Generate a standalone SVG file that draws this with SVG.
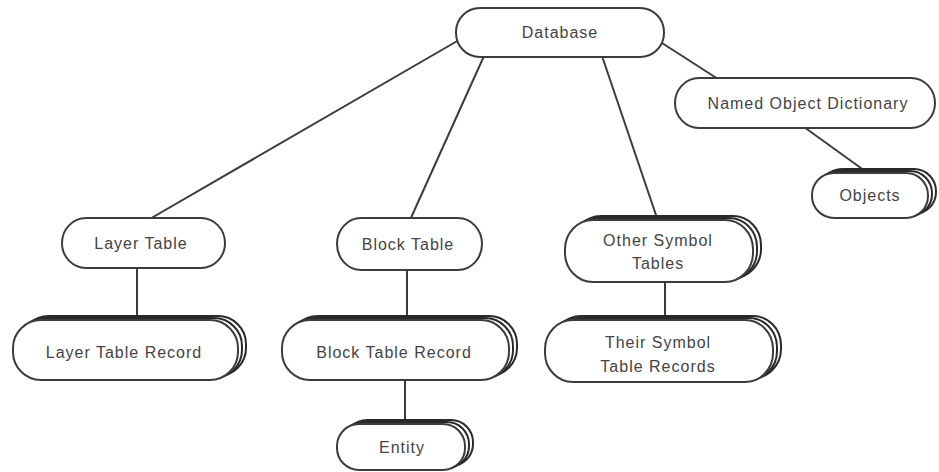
<svg xmlns="http://www.w3.org/2000/svg" width="939" height="472" viewBox="0 0 939 472">
<style>
.n{fill:#fff;stroke:#3c3c3c;stroke-width:2}
.b{fill:#fff;stroke:#2a2a2a;stroke-width:2}
.c{stroke:#3c3c3c;stroke-width:2;fill:none}
text{font-family:"Liberation Sans",Arial,sans-serif;font-size:16px;fill:#444;text-anchor:middle;letter-spacing:1px}
</style>
<rect width="939" height="472" fill="#fff"/>
<g id="connectors">
<line class="c" x1="459" y1="40" x2="148" y2="220"/>
<line class="c" x1="484" y1="56" x2="410" y2="220"/>
<line class="c" x1="602" y1="56" x2="657" y2="218"/>
<line class="c" x1="662" y1="43" x2="718" y2="79"/>
<line class="c" x1="804" y1="127" x2="865" y2="171"/>
<line class="c" x1="137" y1="267" x2="137" y2="318"/>
<line class="c" x1="407" y1="269" x2="407" y2="318"/>
<line class="c" x1="405" y1="379" x2="405" y2="422"/>
<line class="c" x1="665" y1="279" x2="665" y2="318"/>
</g>
<g id="database">
<rect class="n" x="456" y="8" width="208" height="49" rx="24" ry="24"/>
<text x="560" y="38">Database</text>
</g>
<g id="named-object-dictionary">
<rect class="n" x="675" y="78" width="260" height="50" rx="24" ry="25"/>
<text x="808" y="109">Named Object Dictionary</text>
</g>
<g id="objects">
<rect class="b" x="820" y="169" width="116" height="45" rx="22" ry="22"/>
<rect class="b" x="816" y="171" width="116" height="45" rx="22" ry="22"/>
<rect class="n" x="812" y="173" width="116" height="45" rx="22" ry="22"/>
<text x="870" y="201">Objects</text>
</g>
<g id="layer-table">
<rect class="n" x="62" y="218" width="163" height="50" rx="24" ry="25"/>
<text x="141" y="249">Layer Table</text>
</g>
<g id="layer-table-record">
<rect class="b" x="21" y="316" width="225" height="60" rx="28" ry="28"/>
<rect class="b" x="17" y="318" width="225" height="60" rx="28" ry="28"/>
<rect class="n" x="13" y="320" width="225" height="60" rx="28" ry="28"/>
<text x="124" y="358">Layer Table Record</text>
</g>
<g id="block-table">
<rect class="n" x="337" y="218" width="145" height="52" rx="24" ry="26"/>
<text x="408" y="250">Block Table</text>
</g>
<g id="block-table-record">
<rect class="b" x="290" y="316" width="227" height="60" rx="28" ry="28"/>
<rect class="b" x="286" y="318" width="227" height="60" rx="28" ry="28"/>
<rect class="n" x="282" y="320" width="227" height="60" rx="28" ry="28"/>
<text x="394" y="358">Block Table Record</text>
</g>
<g id="entity">
<rect class="b" x="345" y="420" width="128" height="46" rx="22" ry="22"/>
<rect class="b" x="341" y="422" width="128" height="46" rx="22" ry="22"/>
<rect class="n" x="337" y="424" width="128" height="46" rx="22" ry="22"/>
<text x="402" y="453">Entity</text>
</g>
<g id="other-symbol-tables">
<rect class="b" x="573" y="216" width="188" height="62" rx="28" ry="29"/>
<rect class="b" x="569" y="218" width="188" height="62" rx="28" ry="29"/>
<rect class="n" x="565" y="220" width="188" height="62" rx="28" ry="29"/>
<text x="658" y="246">Other Symbol</text>
<text x="658" y="269">Tables</text>
</g>
<g id="their-symbol-table-records">
<rect class="b" x="553" y="316" width="228" height="62" rx="28" ry="29"/>
<rect class="b" x="549" y="318" width="228" height="62" rx="28" ry="29"/>
<rect class="n" x="545" y="320" width="228" height="62" rx="28" ry="29"/>
<text x="658" y="348">Their Symbol</text>
<text x="658" y="372">Table Records</text>
</g>
</svg>
